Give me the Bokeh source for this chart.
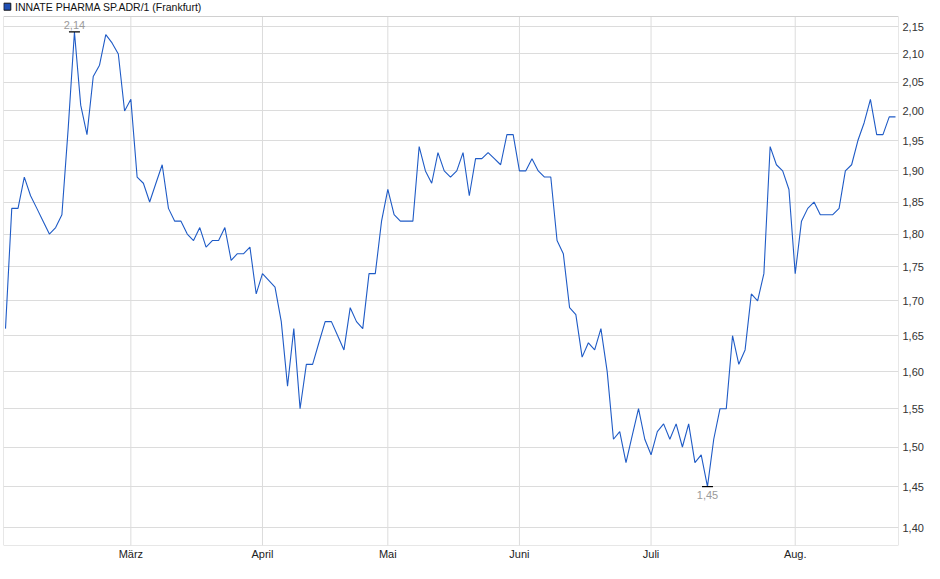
import numpy as np
import pandas as pd
from bokeh.plotting import figure
from bokeh.models import (Range1d, FixedTicker, CustomJSTickFormatter, Label,
                          BoxAnnotation)
from bokeh.embed import file_html
from bokeh.resources import INLINE

title_text = "INNATE PHARMA SP.ADR/1 (Frankfurt)"

start_date = "2025-02-03"
end_date = "2025-08-25"
holidays = ["2025-04-18", "2025-04-21", "2025-05-01"]

prices = [
    1.66, 1.84, 1.84, 1.89, 1.86, 1.84, 1.82, 1.80, 1.81, 1.83,
    1.97, 2.14, 2.01, 1.96, 2.06, 2.08, 2.135, 2.12, 2.10, 2.00,
    2.02, 1.89, 1.88, 1.85, 1.88, 1.91, 1.84, 1.82, 1.82, 1.80,
    1.79, 1.81, 1.78, 1.79, 1.79, 1.81, 1.76, 1.77, 1.77, 1.78,
    1.71, 1.74, 1.73, 1.72, 1.67, 1.58, 1.66, 1.55, 1.61, 1.61,
    1.64, 1.67, 1.67, 1.65, 1.63, 1.69, 1.67, 1.66, 1.74, 1.74,
    1.82, 1.87, 1.83, 1.82, 1.82, 1.82, 1.94, 1.90, 1.88, 1.93,
    1.90, 1.89, 1.90, 1.93, 1.86, 1.92, 1.92, 1.93, 1.92, 1.91,
    1.96, 1.96, 1.90, 1.90, 1.92, 1.90, 1.89, 1.89, 1.79, 1.77,
    1.69, 1.68, 1.62, 1.64, 1.63, 1.66, 1.60, 1.51, 1.52, 1.48,
    1.515, 1.55, 1.51, 1.49, 1.52, 1.53, 1.51, 1.53, 1.50, 1.53,
    1.48, 1.49, 1.45, 1.51, 1.55, 1.55, 1.65, 1.61, 1.63, 1.71,
    1.70, 1.74, 1.94, 1.91, 1.90, 1.87, 1.74, 1.82, 1.84, 1.85,
    1.83, 1.83, 1.83, 1.84, 1.90, 1.91, 1.95, 1.98, 2.02, 1.96,
    1.96, 1.99, 1.99,
]

month_labels = ["März", "April", "Mai", "Juni", "Juli", "Aug."]
y_ticks = [1.40, 1.45, 1.50, 1.55, 1.60, 1.65, 1.70, 1.75, 1.80,
           1.85, 1.90, 1.95, 2.00, 2.05, 2.10, 2.15]

dates = pd.bdate_range(start_date, end_date)
dates = dates[~dates.isin(pd.to_datetime(holidays))]
n = len(prices)
dates = dates[:n]
xs = list(range(n))
month_starts = [i for i in range(1, n) if dates[i].month != dates[i - 1].month]

FONT = "Liberation Sans"
LINE = "#1f5bc6"
GRID = "#dcdcdc"
FRAME = "#d0d0d0"

W, H = 930, 570
TOP, BOTTOM, LEFT, RIGHT = 0, 25, 3, 32
FRAME_H = H - TOP - BOTTOM

X_LO, X_HI = -0.319, n - 1 + 0.479
Y_LO, Y_HI = 1.3787, 2.1984      # canvas area incl. title row
Y_BOX_TOP = 2.1685               # top edge of the chart box

p = figure(width=W, height=H, output_backend="svg", toolbar_location=None,
           y_axis_type="log", y_axis_location="right",
           x_range=Range1d(X_LO, X_HI), y_range=Range1d(Y_LO, Y_HI),
           min_border_left=LEFT, min_border_right=RIGHT,
           min_border_top=TOP, min_border_bottom=BOTTOM)
p.background_fill_color = "white"
p.border_fill_color = "white"
p.outline_line_color = None
p.xgrid.visible = False
p.ygrid.grid_line_color = GRID

# month grid lines (stop at chart box top)
k = len(month_starts)
p.segment(x0=month_starts, y0=[Y_LO] * k, x1=month_starts, y1=[Y_BOX_TOP] * k,
          line_color=GRID, line_width=1)

# chart box
p.quad(left=[X_LO], right=[X_HI], bottom=[Y_LO], top=[Y_BOX_TOP],
       fill_alpha=0, line_color=FRAME, line_width=1)

p.line(xs, prices, line_color=LINE, line_width=1.1)

imax = int(np.argmax(prices))
imin = int(np.argmin(prices))
p.scatter([xs[imax], xs[imin]], [prices[imax], prices[imin]], marker="dash",
          size=11, line_color="black", line_width=1.2)

fmt = lambda v: f"{v:.2f}".replace(".", ",")
p.add_layout(Label(x=xs[imax], y=prices[imax], text=fmt(prices[imax]),
                   text_align="center", text_baseline="bottom", y_offset=3,
                   text_color="#9a9a9a", text_font_size="11px",
                   text_font=FONT))
p.add_layout(Label(x=xs[imin], y=prices[imin], text=fmt(prices[imin]),
                   text_align="center", text_baseline="top", y_offset=-4,
                   text_color="#9a9a9a", text_font_size="11px",
                   text_font=FONT))

# title row (square marker + series name)
p.add_layout(BoxAnnotation(left=0.3, right=7.3, bottom=FRAME_H - 9.7, top=FRAME_H - 2.7,
                           left_units="screen", right_units="screen",
                           bottom_units="screen", top_units="screen",
                           fill_color="#1f4fb4", fill_alpha=1,
                           line_color="#111111", line_width=1, line_alpha=1))
p.add_layout(Label(x=11.5, y=FRAME_H - 6.5, x_units="screen", y_units="screen",
                   text=title_text, text_baseline="middle", text_align="left",
                   text_font_size="10.5px", text_font=FONT,
                   text_color="#111111"))

# y axis (right, log)
p.yaxis.ticker = FixedTicker(ticks=y_ticks)
p.yaxis.formatter = CustomJSTickFormatter(code="return tick.toFixed(2).replace('.', ',');")
p.yaxis.axis_line_color = None
p.yaxis.major_tick_line_color = None
p.yaxis.minor_tick_line_color = None
p.yaxis.major_tick_out = 0
p.yaxis.major_tick_in = 0
p.yaxis.minor_tick_out = 0
p.yaxis.major_label_standoff = 4
p.yaxis.major_label_text_font_size = "11px"
p.yaxis.major_label_text_font = FONT
p.yaxis.major_label_text_color = "#333333"

# x axis
p.xaxis.ticker = FixedTicker(ticks=month_starts)
p.xaxis.major_label_overrides = {m: lbl for m, lbl in zip(month_starts, month_labels)}
p.xaxis.axis_line_color = None
p.xaxis.major_tick_line_color = None
p.xaxis.minor_tick_line_color = None
p.xaxis.major_tick_out = 0
p.xaxis.major_tick_in = 0
p.xaxis.minor_tick_out = 0
p.xaxis.major_label_standoff = 2
p.xaxis.major_label_text_font_size = "11px"
p.xaxis.major_label_text_font = FONT
p.xaxis.major_label_text_color = "#222222"

open("out.html", "w").write(file_html(p, INLINE))
